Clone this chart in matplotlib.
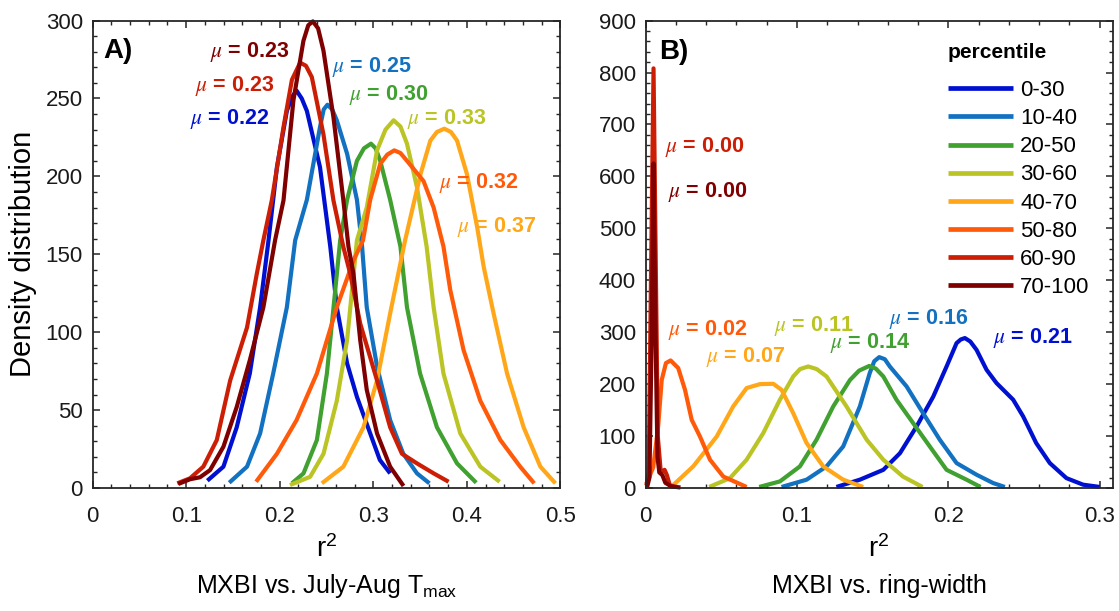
import numpy as np
import matplotlib
matplotlib.use("Agg")
import matplotlib.pyplot as plt
from matplotlib.ticker import MultipleLocator

plt.rcParams['font.family'] = ['Liberation Sans', 'DejaVu Sans']
plt.rcParams['mathtext.fontset'] = 'stix'

groups = ['0-30', '10-40', '20-50', '30-60', '40-70', '50-80', '60-90', '70-100']
colors = ['#0010D0', '#1271C0', '#40A030', '#BBC425', '#FFA719', '#FF5A0A', '#CC1E05', '#7F0000']

# ---- panel A: r2 vs July-Aug Tmax ----
a_x_0_30 = [0.1226, 0.1398, 0.154, 0.168, 0.179, 0.188, 0.197, 0.2076, 0.213, 0.218, 0.2235,
            0.229, 0.243, 0.254, 0.261, 0.272, 0.2825, 0.2967, 0.307, 0.318]
a_y_0_30 = [4.7, 13.7, 39, 73.5, 116, 159, 206, 242, 251, 255, 250,
            242, 206, 155, 116, 80, 58.5, 35, 18, 9.4]
a_x_10_40 = [0.146, 0.165, 0.179, 0.193, 0.2076, 0.2165, 0.229, 0.243, 0.247, 0.251, 0.256,
             0.261, 0.272, 0.2825, 0.288, 0.293, 0.304, 0.318, 0.332, 0.3467, 0.360]
a_y_10_40 = [3.4, 13.7, 35, 73.5, 116, 159, 185, 231.6, 243, 246, 243,
             236, 214.5, 185, 155, 116, 78, 43.6, 22, 9.4, 3]
a_x_20_50 = [0.213, 0.2254, 0.2397, 0.2504, 0.2575, 0.2646, 0.272, 0.2825, 0.290, 0.2975,
             0.3025, 0.3074, 0.318, 0.329, 0.336, 0.350, 0.368, 0.3895, 0.410]
a_y_20_50 = [3, 9.4, 30.8, 73.5, 116, 159, 185, 210, 218, 221,
             218, 210, 185, 155, 116, 73.5, 39, 15.8, 3.4]
a_x_30_60 = [0.211, 0.2325, 0.2468, 0.261, 0.272, 0.2825, 0.293, 0.304, 0.313, 0.3217,
             0.329, 0.336, 0.3467, 0.357, 0.3645, 0.375, 0.393, 0.4144, 0.435]
a_y_30_60 = [1.9, 7.2, 22, 56, 95, 159, 180, 216.7, 230, 236,
             232, 221, 193, 155, 116, 73.5, 35, 13.7, 4]
a_x_40_70 = [0.245, 0.268, 0.2895, 0.304, 0.318, 0.334, 0.3506, 0.361, 0.368, 0.3759,
             0.383, 0.3895, 0.400, 0.411, 0.418, 0.4286, 0.443, 0.4607, 0.4786, 0.4947]
a_y_40_70 = [3, 13.7, 39, 69, 112, 159, 201.7, 223, 228.5, 230.6,
             228.5, 223, 201.7, 167.5, 142, 112, 73.5, 39, 13.7, 3]
a_x_50_80 = [0.1747, 0.197, 0.218, 0.2397, 0.261, 0.2788, 0.289, 0.2967, 0.3074, 0.315,
             0.3224, 0.329, 0.336, 0.3537, 0.3645, 0.375, 0.3823, 0.3965, 0.4144, 0.4358,
             0.457, 0.472]
a_y_50_80 = [4, 22, 43.6, 73.5, 116, 146, 159, 185, 208, 214,
             216.7, 215, 210, 197, 180, 155, 127, 88.5, 56, 30.8,
             13.7, 3]
a_x_60_90 = [0.0905, 0.104, 0.1183, 0.1327, 0.147, 0.165, 0.1755, 0.1825, 0.1915, 0.204,
             0.213, 0.2218, 0.228, 0.2343, 0.2467, 0.2574, 0.268, 0.2753, 0.286, 0.304,
             0.318, 0.3306, 0.3467, 0.3645, 0.3805]
a_y_60_90 = [3, 6.2, 13.7, 30.8, 69, 103, 137.6, 159, 184.6, 231.6,
             262, 273, 271, 263.7, 227, 184.6, 154.7, 137.6, 105.6, 69,
             39, 22, 15.8, 9.4, 4]
a_x_70_100 = [0.0916, 0.104, 0.1148, 0.1255, 0.1398, 0.154, 0.168, 0.1825, 0.195, 0.204,
              0.2146, 0.2253, 0.2305, 0.2354, 0.241, 0.2467, 0.2574, 0.268, 0.2735, 0.2788,
              0.286, 0.293, 0.304, 0.318, 0.3323]
a_y_70_100 = [2.6, 5.6, 6.9, 11.5, 26.5, 52, 82, 116, 159, 184.6,
              248.7, 287, 297, 299.5, 295, 280.8, 238, 184.6, 154.7, 137.6,
              95, 63, 35, 13.7, 1.3]

a_curves = [(a_x_0_30, a_y_0_30), (a_x_10_40, a_y_10_40), (a_x_20_50, a_y_20_50),
            (a_x_30_60, a_y_30_60), (a_x_40_70, a_y_40_70), (a_x_50_80, a_y_50_80),
            (a_x_60_90, a_y_60_90), (a_x_70_100, a_y_70_100)]
a_means = [0.22, 0.25, 0.30, 0.33, 0.37, 0.32, 0.23, 0.23]
a_label_x = [0.147, 0.299, 0.317, 0.378, 0.432, 0.413, 0.152, 0.168]
a_label_y = [237, 270, 252, 237, 167.5, 195.7, 258, 280]

# ---- panel B: r2 vs ring-width ----
b_x_0_30 = [0.126, 0.1415, 0.157, 0.168, 0.179, 0.19, 0.1988, 0.2054, 0.2082, 0.2109,
            0.2145, 0.2186, 0.2252, 0.2318, 0.2428, 0.2494, 0.258, 0.267, 0.278, 0.289, 0.300]
b_y_0_30 = [2, 16, 35, 67, 118.6, 176, 234, 279, 286, 288.7,
            282, 266, 227.7, 202, 170, 137.8, 86.6, 48, 19, 6.4, 2]
b_x_10_40 = [0.0898, 0.1063, 0.1195, 0.1305, 0.1415, 0.148, 0.151, 0.1543, 0.158, 0.1613,
             0.1724, 0.1833, 0.1943, 0.2054, 0.2186, 0.2295, 0.2373]
b_y_10_40 = [2, 16, 41.6, 80, 157, 221, 244, 252, 248, 234,
             195.5, 144, 93, 48, 25.6, 9.6, 2]
b_x_20_50 = [0.075, 0.0887, 0.1019, 0.1129, 0.1239, 0.135, 0.141, 0.1477, 0.152, 0.157,
             0.1657, 0.1767, 0.1877, 0.1988, 0.212, 0.2212]
b_y_20_50 = [2, 12.7, 41.6, 93, 157, 208, 226, 235, 230, 214.8,
             170, 125, 80, 35, 16, 2]
b_x_30_60 = [0.042, 0.0557, 0.0667, 0.0777, 0.0887, 0.0975, 0.102, 0.1074, 0.113, 0.1195,
             0.1327, 0.146, 0.157, 0.170, 0.1829]
b_y_30_60 = [2, 19, 54.5, 105.8, 170, 214.8, 229, 234, 229, 214.8,
             157, 93, 54.5, 22, 2]
b_x_40_70 = [0.0172, 0.0314, 0.0469, 0.0578, 0.0667, 0.0755, 0.0843, 0.0898, 0.0975,
             0.1063, 0.1173, 0.1305, 0.1437]
b_y_40_70 = [3, 41.6, 99, 157, 192.5, 200, 200.7, 189, 144,
             86.6, 41.6, 16, 2]
b_x_50_80 = [0.0005, 0.005, 0.0083, 0.0106, 0.0134, 0.0165, 0.0215, 0.026, 0.0304,
             0.0359, 0.0425, 0.0513, 0.0667]
b_y_50_80 = [8, 40, 120, 208, 240.6, 245.6, 231, 189, 131.4,
             99, 54.5, 22, 2]
b_x_60_90 = [0.0005, 0.002, 0.0035, 0.0052, 0.0068, 0.008, 0.010, 0.0125, 0.014,
             0.016, 0.020]
b_y_60_90 = [5, 30, 400, 808, 400, 100, 30, 35, 25,
             5, 2]
b_x_70_100 = [0.001, 0.0025, 0.004, 0.0052, 0.0065, 0.0078, 0.009, 0.011, 0.013,
              0.017, 0.023]
b_y_70_100 = [2, 20, 300, 625, 300, 60, 30, 25, 10,
              3, 1]

b_curves = [(b_x_0_30, b_y_0_30), (b_x_10_40, b_y_10_40), (b_x_20_50, b_y_20_50),
            (b_x_30_60, b_y_30_60), (b_x_40_70, b_y_40_70), (b_x_50_80, b_y_50_80),
            (b_x_60_90, b_y_60_90), (b_x_70_100, b_y_70_100)]
b_means = [0.21, 0.16, 0.14, 0.11, 0.07, 0.02, 0.00, 0.00]
b_label_x = [0.256, 0.187, 0.148, 0.111, 0.0658, 0.0413, 0.0392, 0.0413]
b_label_y = [288.7, 325, 279, 312, 253, 304.7, 657.5, 569]

fig = plt.figure(figsize=(11.19, 6.11), dpi=100)
axA = fig.add_axes([0.0828, 0.2013, 0.418, 0.765])
axB = fig.add_axes([0.577, 0.2013, 0.4173, 0.765])

def style_axis(ax, xmax, ymax, xmaj, xmin_, ymaj, ymin_):
    ax.set_xlim(0, xmax)
    ax.set_ylim(0, ymax)
    ax.xaxis.set_major_locator(MultipleLocator(xmaj))
    ax.xaxis.set_minor_locator(MultipleLocator(xmin_))
    ax.yaxis.set_major_locator(MultipleLocator(ymaj))
    ax.yaxis.set_minor_locator(MultipleLocator(ymin_))
    ax.tick_params(which='both', direction='in', top=True, right=True,
                   color='#262626', labelsize=16, labelcolor='#1a1a1a')
    ax.tick_params(which='major', length=5, width=1.1)
    ax.tick_params(which='minor', length=3, width=1.0)
    ax.tick_params(axis='x', pad=13)
    ax.tick_params(axis='y', pad=7)
    for s in ax.spines.values():
        s.set_color('#262626')
        s.set_linewidth(1.3)

style_axis(axA, 0.5, 300, 0.1, 0.02, 50, 10)
style_axis(axB, 0.3085, 900, 0.1, 0.02, 100, 20)
axA.xaxis.set_major_formatter(lambda v, p: '0' if abs(v) < 1e-9 else f'{v:g}')
axB.xaxis.set_major_formatter(lambda v, p: '0' if abs(v) < 1e-9 else f'{v:g}')

for ax, curves, means, lx, ly in [(axA, a_curves, a_means, a_label_x, a_label_y),
                                  (axB, b_curves, b_means, b_label_x, b_label_y)]:
    for (xs, ys), c, g in zip(curves, colors, groups):
        ax.plot(xs, ys, color=c, lw=3.0, label=g, solid_joinstyle='round',
                solid_capstyle='butt', clip_on=False)
    for m, x, y, c in zip(means, lx, ly, colors):
        ax.text(x, y, r'$\mu$ = ' + f'{m:.2f}', color=c, fontsize=15.5,
                fontweight='bold', ha='center', va='center')

axA.text(0.022, 0.934, 'A)', transform=axA.transAxes, fontsize=20, fontweight='bold',
         va='center', ha='left')
axB.text(0.028, 0.932, 'B)', transform=axB.transAxes, fontsize=20, fontweight='bold',
         va='center', ha='left')

axA.set_ylabel('Density distribution', fontsize=21, labelpad=6)

for ax, sub in [(axA, r'MXBI vs. July-Aug $\mathregular{T_{max}}$'),
                (axB, 'MXBI vs. ring-width')]:
    ax.text(0.5, -0.13, r'$\mathregular{r^2}$', transform=ax.transAxes, fontsize=20,
            ha='center', va='center')
    ax.text(0.5, -0.21, sub, transform=ax.transAxes, fontsize=18,
            ha='center', va='center')

leg = axB.legend(loc='upper left', bbox_to_anchor=(0.647, 0.952), frameon=False,
                 title='percentile', title_fontproperties={'weight': 'bold', 'size': 15},
                 fontsize=16, handlelength=2.93, handletextpad=0.32, labelspacing=0.32,
                 borderpad=0, borderaxespad=0, alignment='left')
leg._legend_box.sep = 13
for line in leg.get_lines():
    line.set_linewidth(3.4)

fig.savefig('out.png', dpi=100)
